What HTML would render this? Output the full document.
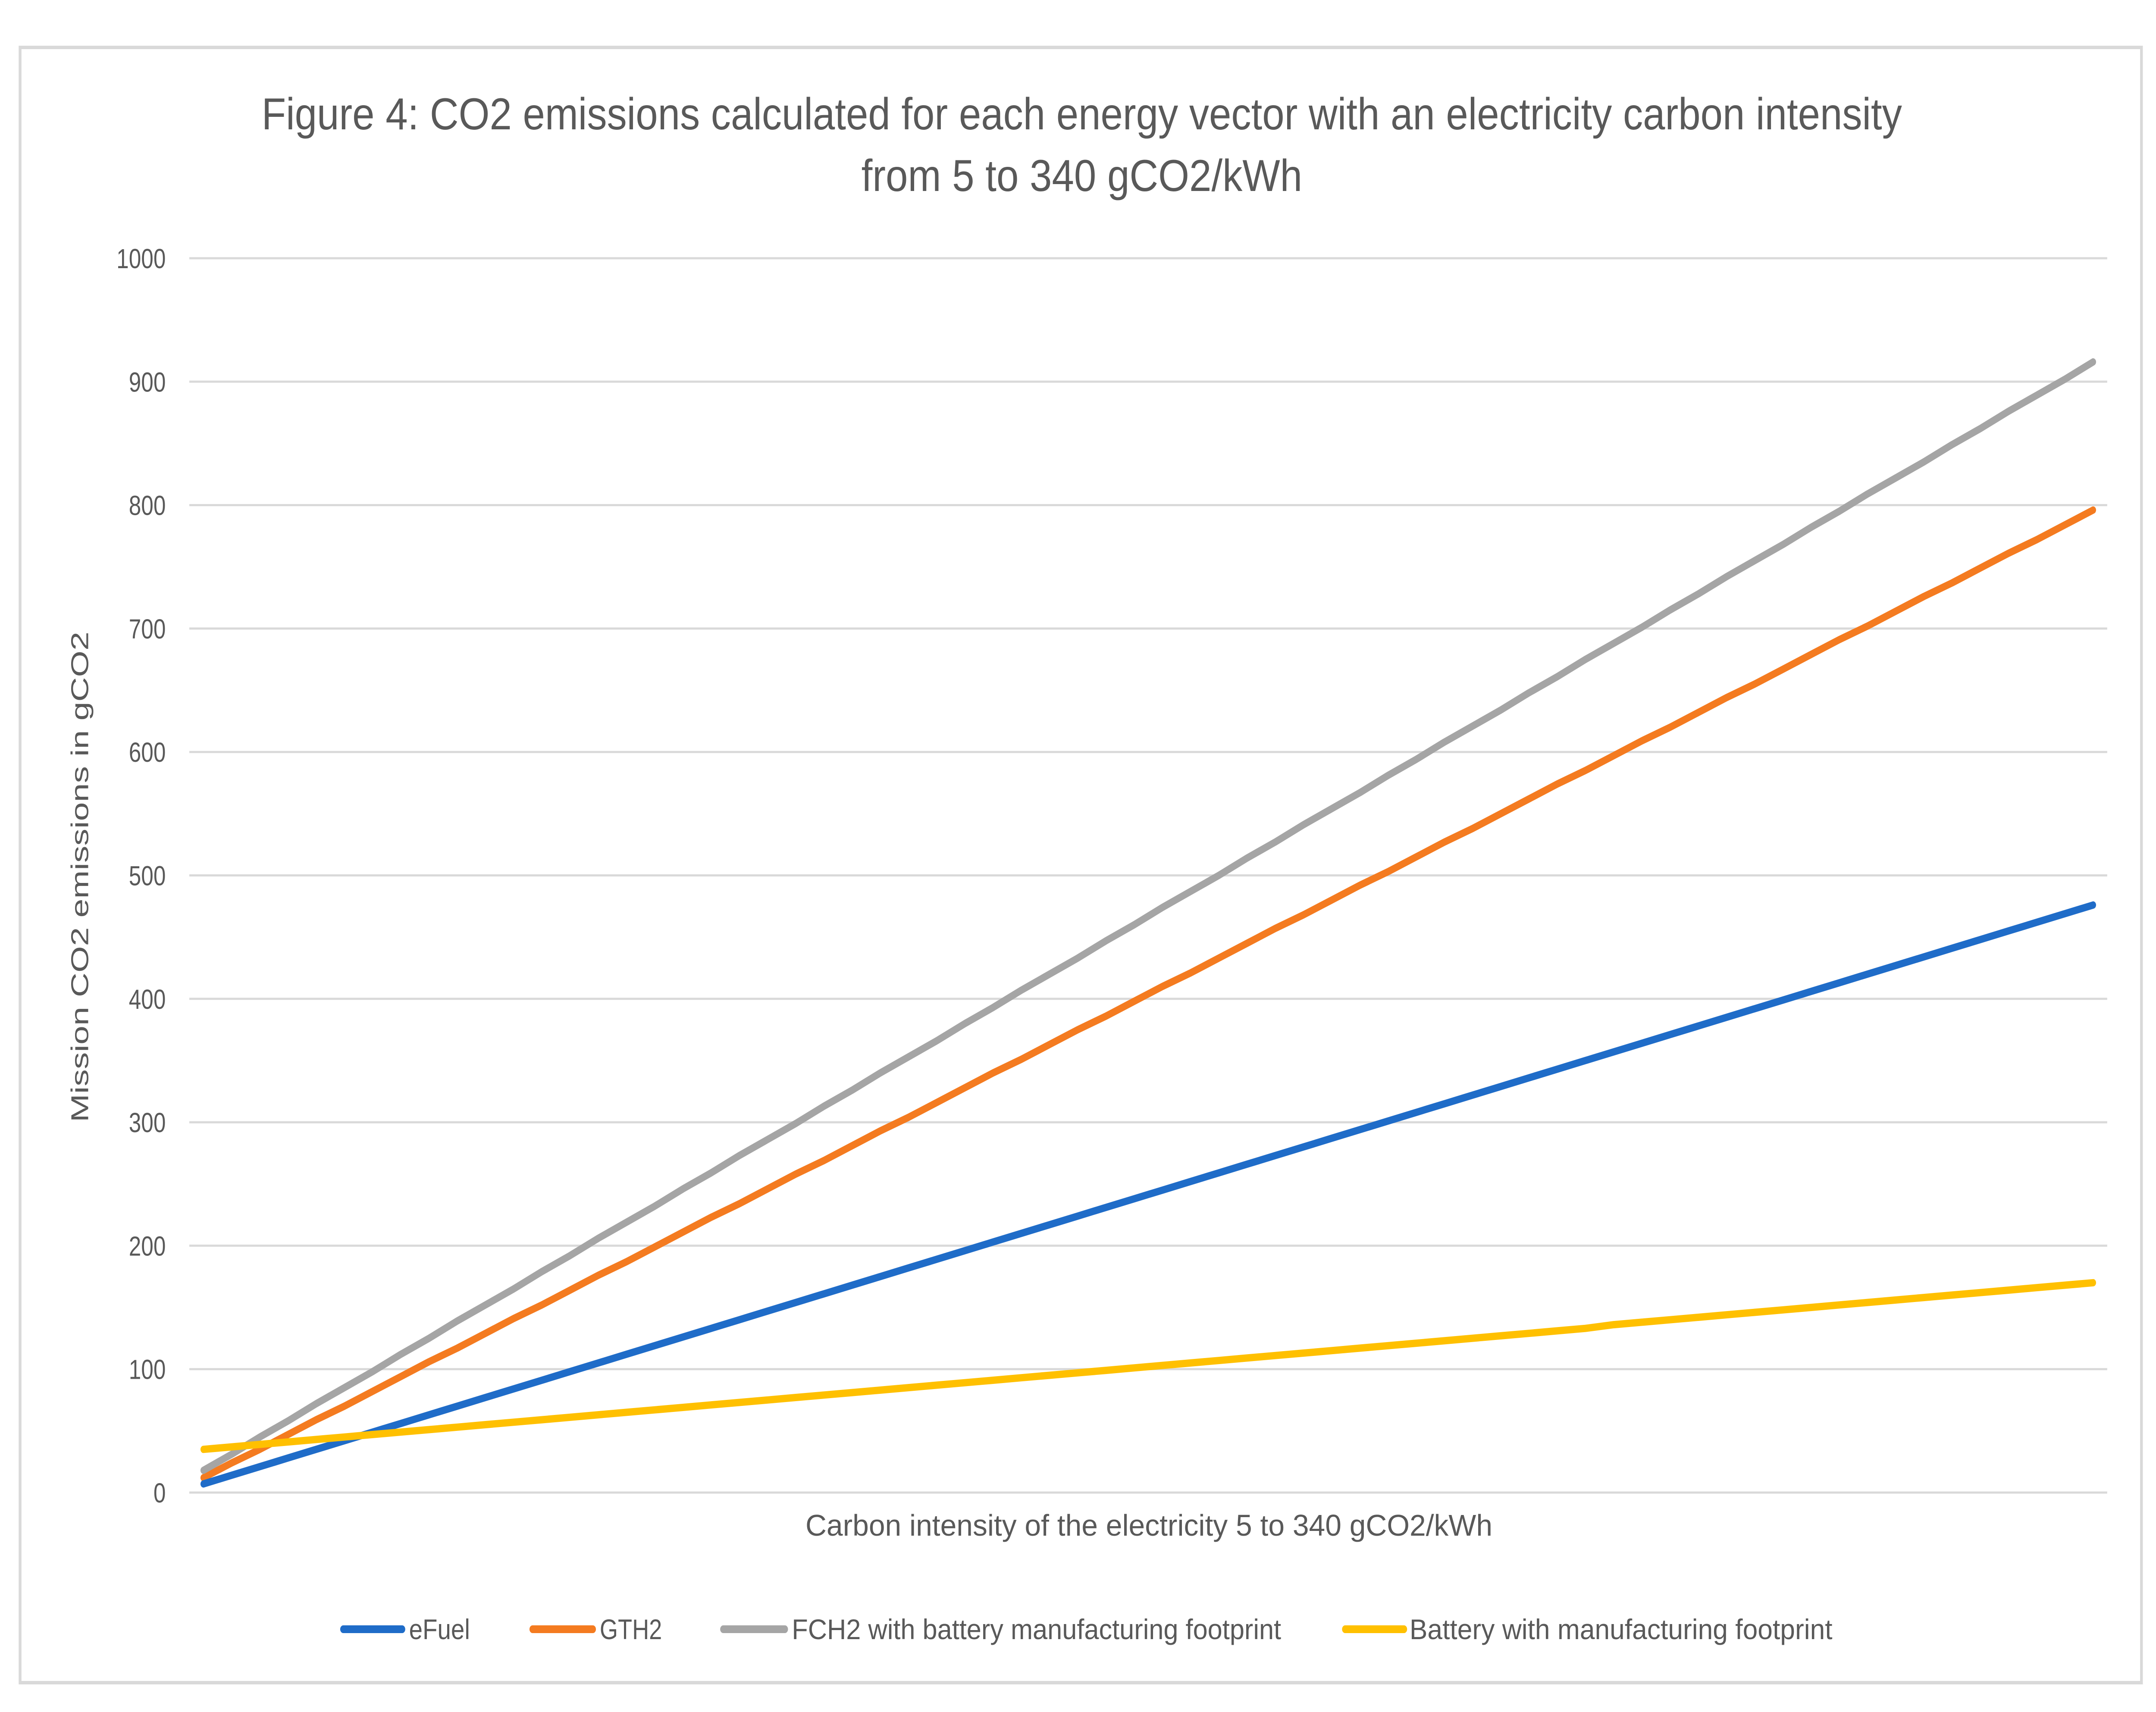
<!DOCTYPE html>
<html><head><meta charset="utf-8"><style>
html,body{margin:0;padding:0;background:#fff;width:100%;height:100%;overflow:hidden;}
svg{display:block;width:100vw;height:100vh;font-family:"Liberation Sans",sans-serif;}
</style></head><body>
<svg id="chart" viewBox="0 0 6230 3971" preserveAspectRatio="none" xmlns="http://www.w3.org/2000/svg">
<rect x="0" y="0" width="6230" height="3971" fill="#fff"/>
<rect x="58" y="110" width="6130" height="3793" fill="#fff" stroke="#d9d9d9" stroke-width="8"/>
<text x="3126" y="300" font-size="104" fill="#595959" text-anchor="middle" textLength="4740" lengthAdjust="spacingAndGlyphs">Figure 4: CO2 emissions calculated for each energy vector with an electricity carbon intensity</text>
<text x="3126" y="443" font-size="104" fill="#595959" text-anchor="middle" textLength="1274" lengthAdjust="spacingAndGlyphs">from 5 to 340 gCO2/kWh</text>
<g id="grid"></g>
<g id="yticks"></g>
<g id="series"></g>
<text transform="translate(255,2034) rotate(-90)" font-size="70" fill="#595959" text-anchor="middle" textLength="1138" lengthAdjust="spacingAndGlyphs">Mission CO2 emissions in gCO2</text>
<text x="3320" y="3562" font-size="70" fill="#595959" text-anchor="middle" textLength="1985" lengthAdjust="spacingAndGlyphs">Carbon intensity of the electricity 5 to 340  gCO2/kWh</text>
<g>
<g><line x1="992" y1="3779" x2="1162" y2="3779" stroke="#1f6cc8" stroke-width="18" stroke-linecap="round"/><text x="1182" y="3802" font-size="66" fill="#595959" textLength="176" lengthAdjust="spacingAndGlyphs">eFuel</text></g>
<g><line x1="1539" y1="3779" x2="1713" y2="3779" stroke="#f47b20" stroke-width="18" stroke-linecap="round"/><text x="1733" y="3802" font-size="66" fill="#595959" textLength="180" lengthAdjust="spacingAndGlyphs">GTH2</text></g>
<g><line x1="2090" y1="3779" x2="2268" y2="3779" stroke="#a5a5a5" stroke-width="18" stroke-linecap="round"/><text x="2288" y="3802" font-size="66" fill="#595959" textLength="1414" lengthAdjust="spacingAndGlyphs">FCH2 with battery manufacturing footprint</text></g>
<g><line x1="3887" y1="3779" x2="4057" y2="3779" stroke="#ffc000" stroke-width="18" stroke-linecap="round"/><text x="4073" y="3802" font-size="66" fill="#595959" textLength="1222" lengthAdjust="spacingAndGlyphs">Battery with manufacturing footprint</text></g>
</g>
</svg>
<script>
const categories = [5,10,15,20,25,30,35,40,45,50,55,60,65,70,75,80,85,90,95,100,105,110,115,120,125,130,135,140,145,150,155,160,165,170,175,180,185,190,195,200,205,210,215,220,225,230,235,240,245,250,255,260,265,270,275,280,285,290,295,300,305,310,315,320,325,330,335,340];
const eFuel = [7,14,21,28,35,42,49,56,63,70,77,84,91,98,105,112,119,126,133,140,147,154,161,168,175,182,189,196,203,210,217,224,231,238,245,252,259,266,273,280,287,294,301,308,315,322,329,336,343,350,357,364,371,378,385,392,399,406,413,420,427,434,441,448,455,462,469,476];
const gth2 = [12,24,35,47,59,70,82,94,106,117,129,141,152,164,176,187,199,211,223,234,246,258,269,281,293,304,316,328,340,351,363,375,386,398,410,421,433,445,457,468,480,492,503,515,527,538,550,562,574,585,597,609,620,632,644,655,667,679,691,702,714,726,737,749,761,772,784,796];
const fch2 = [18,31,45,58,72,85,98,112,125,139,152,165,179,192,206,219,232,246,259,273,286,299,313,326,340,353,366,380,393,407,420,433,447,460,474,487,500,514,527,541,554,567,581,594,608,621,634,648,661,675,688,701,715,728,742,755,768,782,795,809,822,835,849,862,876,889,902,916];
const battery = [35,37,39,41,43,45,47,49,51,53,55,57,59,61,63,65,67,69,71,73,75,77,79,81,83,85,87,89,91,93,95,97,99,101,103,105,107,109,111,113,115,117,119,121,123,125,127,129,131,133,136,138,140,142,144,146,148,150,152,154,156,158,160,162,164,166,168,170];
const yTicks = [0,100,200,300,400,500,600,700,800,900,1000];

const NS = "http://www.w3.org/2000/svg";
const PL = 547, PR = 6089, PT = 599, PB = 3462, YMAX = 1000;
function xPos(i){ const w = (PR-PL)/categories.length; return PL + w*(i+0.5); }
function yPos(v){ return PB - (v/YMAX)*(PB-PT); }

const grid = document.getElementById('grid');
const yt = document.getElementById('yticks');
yTicks.forEach(t=>{
  const l = document.createElementNS(NS,'line');
  l.setAttribute('x1',PL); l.setAttribute('x2',PR);
  l.setAttribute('y1',yPos(t)); l.setAttribute('y2',yPos(t));
  l.setAttribute('stroke','#d9d9d9'); l.setAttribute('stroke-width','5');
  
  
  grid.appendChild(l);
  const tx = document.createElementNS(NS,'text');
  tx.setAttribute('x',479); tx.setAttribute('y',yPos(t)+23);
  tx.setAttribute('font-size','64'); tx.setAttribute('fill','#595959');
  tx.setAttribute('text-anchor','end');
  tx.textContent = t;
  
  
  yt.appendChild(tx);
});

const series = [
  {name:'gth2', data:gth2, color:'#f47b20'},
  {name:'fch2', data:fch2, color:'#a5a5a5'},
  {name:'efuel', data:eFuel, color:'#1f6cc8'},
  {name:'battery', data:battery, color:'#ffc000'}
];
const sg = document.getElementById('series');
series.forEach(s=>{
  const p = document.createElementNS(NS,'polyline');
  p.setAttribute('points', s.data.map((v,i)=>xPos(i).toFixed(1)+','+yPos(v).toFixed(1)).join(' '));
  p.setAttribute('fill','none'); p.setAttribute('stroke',s.color);
  p.setAttribute('stroke-width','17'); p.setAttribute('stroke-linecap','round'); p.setAttribute('stroke-linejoin','round');
  
  
  sg.appendChild(p);
});
</script>
</body></html>
